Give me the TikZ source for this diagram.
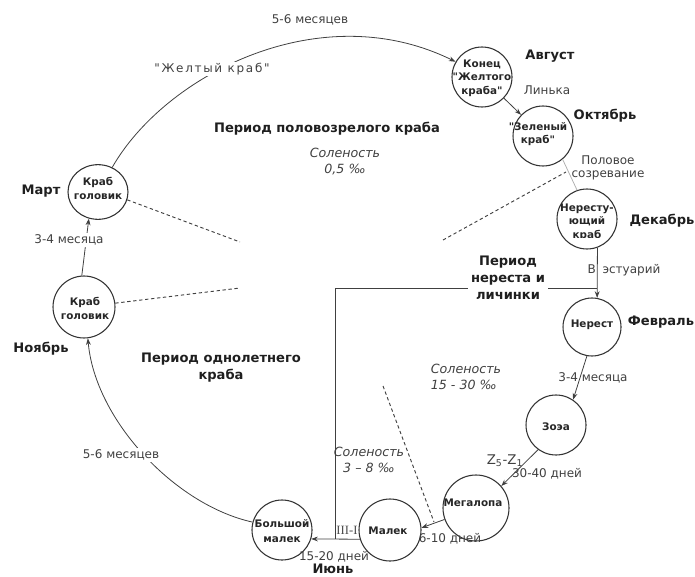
\documentclass[tikz,border=0pt]{standalone}
\usepackage{fontspec}
\setmainfont{DejaVu Sans}[Ligatures=TeXOff]
\newfontfamily\spacedfont{DejaVu Sans}[LetterSpace=14,Ligatures=TeXOff]
\newfontfamily\timesfont{Liberation Serif}
\usetikzlibrary{arrows.meta,shapes.geometric}
\begin{document}
\begin{tikzpicture}[x=0.75pt,y=-0.75pt,
  line/.style={draw=black!75, line width=0.6pt},
  arr/.style={line, -{Stealth[length=5pt,width=3.6pt]}},
  dashline/.style={draw=black!75, line width=0.7pt, dash pattern=on 2.5pt off 2pt},
  crab/.style={circle, draw=black!80, line width=0.8pt, inner sep=0pt, minimum size=45pt},
  ctext/.style={font=\fontsize{7.8}{10}\selectfont\bfseries, align=center, inner sep=0pt, text=black!85},
  lbl/.style={font=\fontsize{9}{9.8}\selectfont, inner sep=1pt, text=black!75, align=center},
  month/.style={font=\fontsize{9.8}{12.75}\selectfont\bfseries, inner sep=1pt, align=center, text=black!88},
  salt/.style={font=\fontsize{9.5}{12}\selectfont\itshape, inner sep=0pt, text=black!75},
  mask/.style={fill=white}
]
\useasboundingbox (0,0) rectangle (695,577);

% circles
\node[crab] (konets) at (482,77) {};
\node[crab] (zeleny) at (543,136) {};
\node[crab] (nerestuy) at (587,219) {};
\node[crab, minimum size=43.5pt] (nerest) at (592,327) {};
\node[crab] (zoea) at (556,425) {};
\node[crab, minimum size=49.5pt] (megalopa) at (476,508) {};
\node[crab, minimum size=46.5pt] (malek) at (390,530) {};
\node[crab] (bolshoy) at (282,530) {};
\node[crab, ellipse, minimum width=45pt, minimum height=41pt] (mart) at (98,192) {};
\node[crab, minimum size=46.5pt] (noyabr) at (84,307) {};

% circle texts
\node[ctext] (konets-t) at (482,78) {Конец\\"Желтого\\краба"};
\node[ctext] (zeleny-t) at (538,134) {"Зеленый\\краб"};
\begin{scope}
  \clip (550,190) rectangle (625,237);
  \node[ctext] (nerestuy-t) at (587,222) {Нересту-\\ющий\\краб};
\end{scope}
\node[ctext] (nerest-t) at (592,325) {Нерест};
\node[ctext] (zoea-t) at (556,427) {Зоэа};
\node[ctext] (megalopa-t) at (473,503) {Мегалопа};
\node[ctext] (malek-t) at (388,531) {Малек};
\node[ctext, font=\fontsize{7.8}{11}\selectfont\bfseries] (bolshoy-t) at (282,531) {Большой\\малек};
\node[ctext, font=\fontsize{7.8}{10.5}\selectfont\bfseries] (mart-t) at (98,188) {Краб\\головик};
\node[ctext, font=\fontsize{7.8}{10.5}\selectfont\bfseries] (noyabr-t) at (85,308) {Краб\\головик};

% frame lines of the spawning period
\coordinate (hL) at (335,288);
\coordinate (hR) at (597,288);
\coordinate (vB) at (335,539);
\draw[line, line width=0.7pt] (hR) -- (hL) -- (vB);

% dashed separators
\coordinate (d1) at (240,242);
\coordinate (d2) at (240,288);
\coordinate (d3a) at (443,240);
\coordinate (d3b) at (566,172);
\coordinate (d4a) at (383,386);
\coordinate (d4b) at (434,522);
\draw[dashline] (mart.-15) -- (d1);
\draw[dashline] (noyabr.7) -- (d2);
\draw[dashline] (d3a) -- (d3b);
\draw[dashline] (d4a) -- (d4b);

% cycle connectors
\draw[arr] (mart.60) .. controls (165,75) and (320,-5) .. (konets.150);
\draw[arr] (konets) -- (zeleny);
\draw[draw=black!30, line width=0.6pt] (zeleny.-50) -- (nerestuy.109);
\draw[arr] (nerestuy.-70) -- (nerest.80);
\draw[arr] (nerest.-100) -- (zoea.56);
\draw[arr] (zoea.-126) -- (megalopa.41);
\draw[arr] (megalopa.-160) -- (malek.4);
\draw[arr] (malek.-163) -- (bolshoy.-17);
\draw[arr] (bolshoy.165) .. controls (175,505) and (95,420) .. (noyabr.-83);
\draw[arr] (noyabr.94) -- (mart.-109);

% connector labels
\node[lbl] (l56top) at (310,20) {5-6 месяцев};
\node[lbl, mask, font=\fontsize{9}{10}\spacedfont] (lyellow) at (212,69) {"Желтый краб"};
\node[lbl] (llinka) at (547,90) {Линька};
\node[lbl, font=\fontsize{9}{9.75}\selectfont] (lpolovoe) at (608,168) {Половое\\созревание};
\node[lbl] (lestuary) at (624,270) {В\hspace{0.55em}эстуарий};
\node[lbl] (l34right) at (593,378) {3-4 месяца};
\node[lbl, font=\fontsize{10}{11}\selectfont] (lz) at (505,461) {Z\textsubscript{5}-Z\textsubscript{1}};
\node[lbl] (l3040) at (547,474) {30-40 дней};
\node[lbl] (l610) at (450,539) {6-10 дней};
\node[lbl] (l1520) at (334,557) {15-20 дней};
\node[lbl, font=\fontsize{9.5}{10}\timesfont, text=black!70] (lroman) at (347,530) {III-I};
\node[lbl, mask] (l56left) at (121,455) {5-6 месяцев};
\node[lbl, mask] (l34left) at (69,240) {3-4 месяца};

% months
\node[month] (maug) at (550,56) {Август};
\node[month] (moct) at (605,116) {Октябрь};
\node[month] (mdec) at (662,221) {Декабрь};
\node[month] (mfeb) at (661,322) {Февраль};
\node[month] (mjun) at (333,569) {Июнь};
\node[month] (mmar) at (41,191) {Март};
\node[month] (mnov) at (41,349) {Ноябрь};

% period titles
\node[month] (pmature) at (327,129) {Период половозрелого краба};
\node[month, mask, inner sep=2pt] (pspawn) at (508,278) {Период\\нереста и\\личинки};
\node[month] (pyear) at (221,368) {Период однолетнего\\краба};

% salinity
\node[salt, align=center] (s05) at (345,162) {Соленость\\0,5 ‰};
\node[salt, align=left] (s1530) at (466,377) {Соленость\\15 - 30 ‰};
\node[salt, align=center] (s38) at (369,460) {Соленость\\3 – 8 ‰};
\end{tikzpicture}
\end{document}
